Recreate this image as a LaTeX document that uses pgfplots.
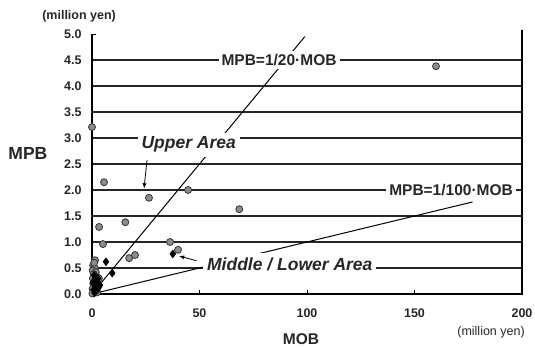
\documentclass[border=0pt]{standalone}
\usepackage{pgfplots}
\pgfplotsset{compat=1.18}
\usepackage{fontspec}
\setmainfont{Liberation Sans}
\begin{document}
\begin{tikzpicture}
\useasboundingbox (-92pt,-53pt) rectangle (443pt,294pt);
\begin{axis}[
  at={(0,0)}, anchor=south west,
  x=2.15pt, y=52pt,
  xmin=0, xmax=200, ymin=0, ymax=5,
  clip=false,
  axis line style={draw=none},
  xtick={0,50,100,150,200},
  ytick={0,0.5,1,1.5,2,2.5,3,3.5,4,4.5,5},
  xtick pos=bottom, ytick pos=left,
  tick align=inside, major tick length=4pt,
  tick style={black, line width=0.9pt},
  extra y ticks={0.5,1,1.5,2,2.5,3,3.5,4,4.5},
  extra y tick labels={},
  extra y tick style={grid=major, major tick length=0pt},
  major grid style={black!85, line width=1.2pt},
  /pgf/number format/assume math mode=true,
  tick label style={font=\bfseries\fontsize{12.5}{15}\selectfont, text=black!85},
  yticklabel style={/pgf/number format/.cd, fixed, fixed zerofill, precision=1, /tikz/.cd, xshift=-7pt},
  xticklabel style={yshift=-11pt},
]
% axis frame
\draw[black, line width=1.2pt] (axis cs:0,5) -- (axis cs:0,0) -- (axis cs:200,0) -- (axis cs:200,5.08);
% reference lines
\addplot[black, line width=1pt] coordinates {(0,0) (99,4.95)};
\addplot[black, line width=1pt] coordinates {(0,0) (177,1.77)};
% circles
\addplot[only marks, mark=*, mark size=3.5pt, mark options={fill=black!45, draw=black!80, line width=0.8pt}] coordinates {
(0,3.21) (5.6,2.15) (26.5,1.85) (44.7,2.0) (68.5,1.63) (160,4.38)
(3.3,1.29) (15.5,1.38) (5.1,0.96) (36.3,1.0) (40,0.85) (17.3,0.69) (20,0.75) (1.4,0.65)
(0.5,0.55) (1.2,0.5) (0.3,0.45) (1.8,0.42) (0.8,0.38) (2.2,0.33) (0.4,0.3) (1.5,0.27)
(2.6,0.22) (0.6,0.2) (1.1,0.15) (2,0.12) (0.3,0.1) (1.4,0.07) (0.7,0.04) (2.3,0.03)
(0.2,0.01) (3.2,0.3) (1,0.6)
};
% diamonds
\addplot[only marks, mark=diamond*, mark size=4pt, mark options={fill=black, draw=black}] coordinates {
(6.5,0.62) (9.4,0.40) (37.6,0.77) (3.7,0.17) (1,0.36) (2,0.25) (2.8,0.3) (1.5,0.12)
(0.8,0.08) (2.5,0.08) (0.4,0.22) (1.2,0.02) (3,0.12)
};
% annotations
\node[fill=white, inner sep=3pt, text=black!85, font=\bfseries\fontsize{15.5}{17}\selectfont] at (axis cs:87,4.5) {MPB=1/20·MOB};
\node[fill=white, inner sep=3pt, text=black!85, font=\bfseries\fontsize{15.5}{17}\selectfont] at (axis cs:167,2.0) {MPB=1/100·MOB};
\node[fill=white, inner sep=4pt, text=black!85, font=\bfseries\itshape\fontsize{17.5}{19}\selectfont] at (axis cs:45,2.87) {Upper Area};
\node[fill=white, inner sep=4pt, text=black!85, font=\bfseries\itshape\fontsize{17.5}{19}\selectfont] at (axis cs:92,0.58) {Middle / Lower Area};
\draw[-latex, black, line width=0.8pt] (axis cs:25.6,2.58) -- (axis cs:24.2,2.03);
\draw[-latex, black, line width=0.8pt] (axis cs:48.6,0.64) -- (axis cs:40.5,0.73);
% axis titles
\node[text=black!85, font=\bfseries\fontsize{17.5}{19}\selectfont] at (axis cs:-29.8,2.71) {MPB};
\node[text=black!85, font=\bfseries\fontsize{15.5}{17}\selectfont] at (axis cs:97.2,-0.86) {MOB};
\node[text=black!85, font=\bfseries\fontsize{12.5}{15}\selectfont] at (axis cs:-6,5.35) {(million yen)};
\node[text=black!85, font=\fontsize{12.5}{14}\selectfont] at (axis cs:185.6,-0.73) {(million yen)};
\end{axis}
\end{tikzpicture}
\end{document}
